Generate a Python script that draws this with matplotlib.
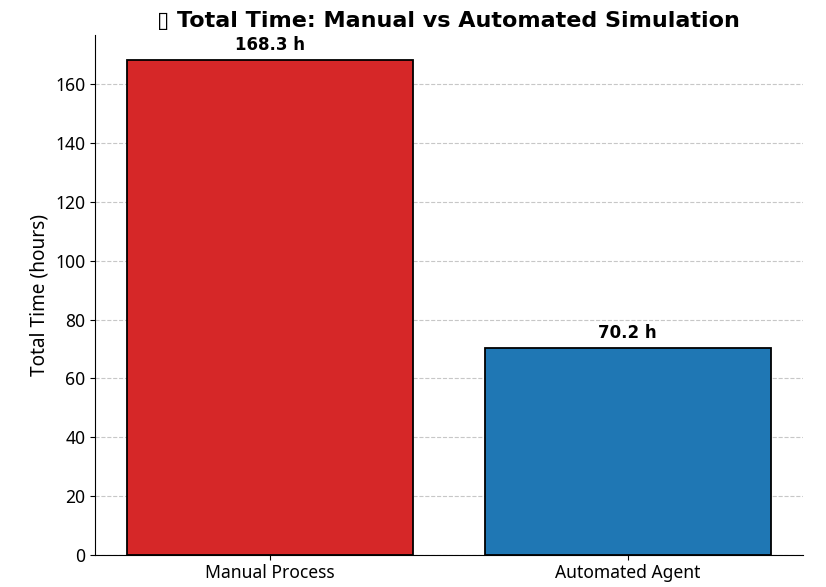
import matplotlib
matplotlib.use('Agg')
import matplotlib.pyplot as plt

plt.rcParams['font.family'] = ['Noto Sans', 'DejaVu Sans']

labels = ['Manual Process', 'Automated Agent']
hours = [168.3, 70.2]
colors = ['#d62728', '#1f77b4']

fig, ax = plt.subplots(figsize=(8.26, 5.87), dpi=100)
bars = ax.bar(labels, hours, color=colors, edgecolor='black', linewidth=1.3, width=0.8)

for b, h in zip(bars, hours):
    ax.text(b.get_x() + b.get_width() / 2, h + 2, f'{h:.1f} h',
            ha='center', va='bottom', fontsize=12, fontweight='bold', family='DejaVu Sans')

ax.set_ylim(0, max(hours) * 1.05)
ax.set_ylabel('Total Time (hours)', fontsize=13.7)
# the reference shows a missing-glyph box before the title text
ax.set_title('\u25AF Total Time: Manual vs Automated Simulation',
             fontsize=16, fontweight='bold', family='DejaVu Sans', pad=6)
ax.tick_params(labelsize=12.6)
ax.grid(axis='y', linestyle='--', alpha=0.7)
ax.set_axisbelow(True)
ax.spines['top'].set_visible(False)
ax.spines['right'].set_visible(False)

plt.subplots_adjust(left=0.115, right=0.972, top=0.94, bottom=0.055)
plt.savefig('out.png', dpi=100)
